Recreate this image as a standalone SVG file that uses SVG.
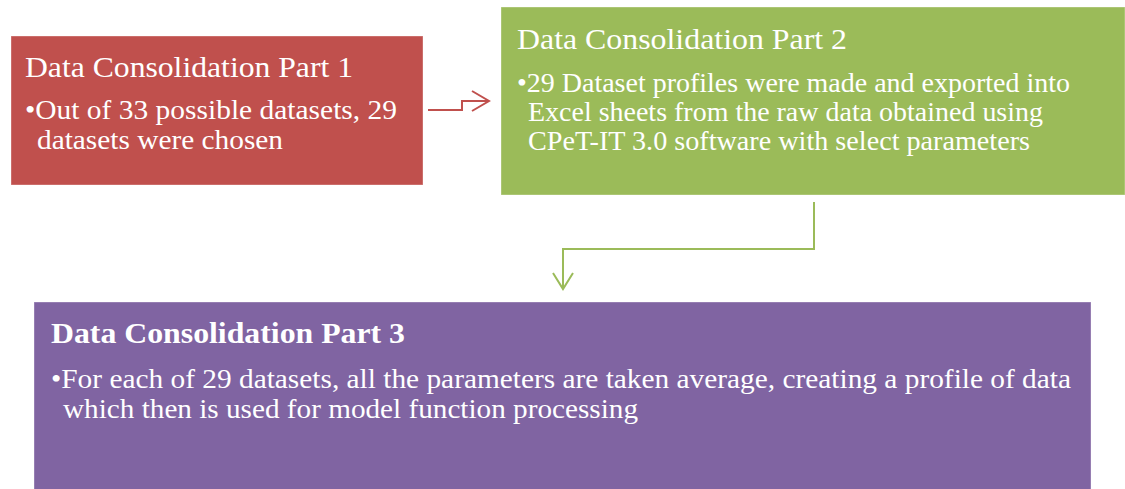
<svg xmlns="http://www.w3.org/2000/svg" width="1125" height="489" viewBox="0 0 1125 489">
  <style>
    .box { stroke: #ffffff; stroke-opacity: 0.35; stroke-width: 1; }
    .t { font-family: "Liberation Serif", "Times New Roman", serif; fill: #ffffff; font-size: 27px; }
    .h { font-size: 30px; }
    .b { font-weight: bold; }
    .conn { fill: none; stroke-width: 2; stroke-linejoin: miter; }
  </style>
  <rect width="1125" height="489" fill="#ffffff"/>

  <g id="part1">
    <rect class="box" x="11" y="36" width="412" height="149" fill="#C0504D"/>
    <text class="t h" x="25" y="77" textLength="328" lengthAdjust="spacingAndGlyphs">Data Consolidation Part 1</text>
    <text class="t" x="25" y="119" textLength="372" lengthAdjust="spacingAndGlyphs">•Out of 33 possible datasets, 29</text>
    <text class="t" x="37" y="149" textLength="246" lengthAdjust="spacingAndGlyphs">datasets were chosen</text>
  </g>

  <g id="part2">
    <rect class="box" x="501" y="7" width="624" height="188" fill="#9BBB59"/>
    <text class="t h" x="517" y="49" textLength="330" lengthAdjust="spacingAndGlyphs">Data Consolidation Part 2</text>
    <text class="t" x="517" y="92" textLength="553" lengthAdjust="spacingAndGlyphs">•29 Dataset profiles were made and exported into</text>
    <text class="t" x="528" y="121" textLength="515" lengthAdjust="spacingAndGlyphs">Excel sheets from the raw data obtained using</text>
    <text class="t" x="528" y="150" textLength="502" lengthAdjust="spacingAndGlyphs">CPeT-IT 3.0 software with select parameters</text>
  </g>

  <g id="part3">
    <rect class="box" x="34" y="302" width="1057" height="190" fill="#8064A2"/>
    <text class="t h b" x="51" y="343" textLength="354" lengthAdjust="spacingAndGlyphs">Data Consolidation Part 3</text>
    <text class="t" x="51" y="388" textLength="1020" lengthAdjust="spacingAndGlyphs">•For each of 29 datasets, all the parameters are taken average, creating a profile of data</text>
    <text class="t" x="63" y="418" textLength="575" lengthAdjust="spacingAndGlyphs">which then is used for model function processing</text>
  </g>

  <g id="connectors">
    <path class="conn" stroke="#C0504D" d="M428 110 H462 V101 H489"/>
    <path class="conn" stroke="#C0504D" d="M472 91 L489 101 L472 111"/>
    <path class="conn" stroke="#9BBB59" d="M814 202 V249 H563 V289"/>
    <path class="conn" stroke="#9BBB59" d="M553 273 L563 289 L573 273"/>
  </g>
</svg>
